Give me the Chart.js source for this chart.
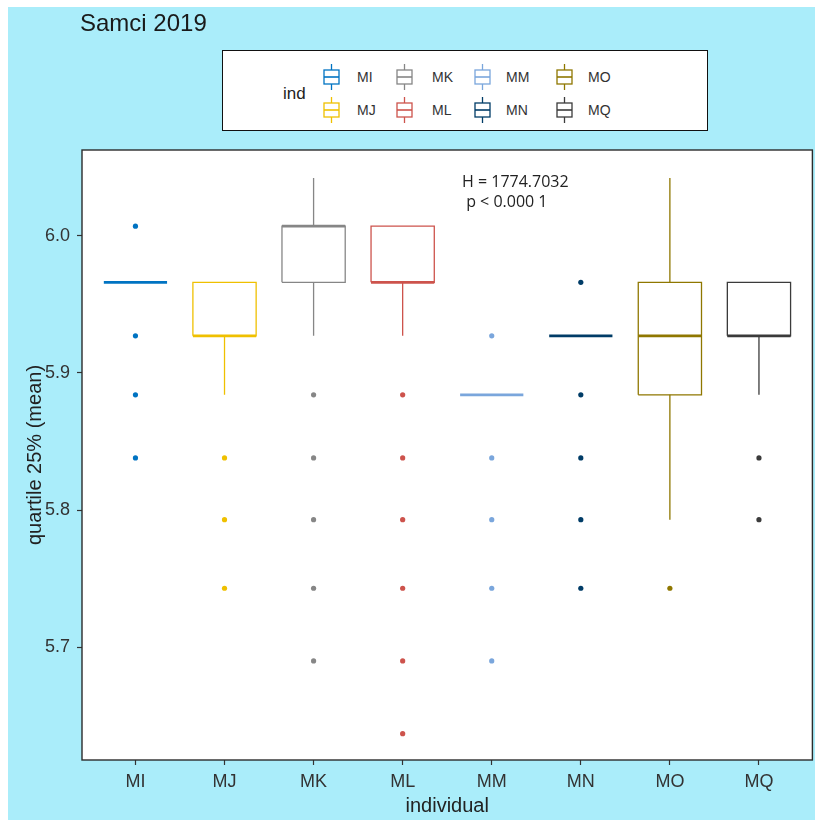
<!DOCTYPE html>
<html>
<head>
<meta charset="utf-8">
<script src="https://cdn.jsdelivr.net/npm/chart.js@4.4.1/dist/chart.umd.min.js"></script>
<style>
  html, body { margin: 0; background: #aaedfa; }
  #wrap { position: relative; width: 815px; height: 820px; overflow: hidden; background: #fff; }
  #bg { position: absolute; left: 8px; top: 7px; right: 0; bottom: 0; background: #aaedfa; }
  #chart { position: absolute; left: 0; top: 0; }
  #title { position: absolute; left: 80px; top: 11px; font: 24px "Liberation Sans", Arial, sans-serif; color: #1a1a1a; line-height: 24px; }
  #legend { position: absolute; left: 222px; top: 50px; width: 486px; height: 81px; box-sizing: border-box;
            border: 1.5px solid #111; background: #fff; font-family: "Liberation Sans", Arial, sans-serif; }
  #legend .lt { position: absolute; font-size: 17px; color: #222; line-height: 17px; }
  #legend .lab { position: absolute; font-size: 14px; color: #333; line-height: 14px; }
  #legend svg { position: absolute; }
  #stat { position: absolute; left: 462px; top: 171px; font: 16px "Open Sans", sans-serif; color: #222; line-height: 20px; white-space: pre; }
</style>
</head>
<body>
<div id="wrap">
  <div id="bg"></div>
  <canvas id="chart" width="815" height="820"></canvas>
  <div id="title">Samci 2019</div>
  <div id="legend"></div>
  <div id="stat"></div>
</div>
<script>
const categories = ['MI', 'MJ', 'MK', 'ML', 'MM', 'MN', 'MO', 'MQ'];
const colors = ['#0073C2', '#EFC000', '#868686', '#CD534C', '#7AA6DC', '#003C67', '#8F7700', '#3B3B3B'];
const lowerWhisker = [5.966, 5.884, 5.927, 5.927, 5.884, 5.927, 5.793, 5.884];
const q1 = [5.966, 5.927, 5.966, 5.966, 5.884, 5.927, 5.884, 5.927];
const median = [5.966, 5.927, 6.007, 5.966, 5.884, 5.927, 5.927, 5.927];
const q3 = [5.966, 5.966, 6.007, 6.007, 5.884, 5.927, 5.966, 5.966];
const upperWhisker = [5.966, 5.966, 6.042, 6.007, 5.884, 5.927, 6.042, 5.966];
const outliers = [
  [6.007, 5.927, 5.884, 5.838],
  [5.838, 5.793, 5.743],
  [5.884, 5.838, 5.793, 5.743, 5.690],
  [5.884, 5.838, 5.793, 5.743, 5.690, 5.637],
  [5.927, 5.838, 5.793, 5.743, 5.690],
  [5.966, 5.884, 5.838, 5.793, 5.743],
  [5.743],
  [5.838, 5.793]
];
const yTicks = [5.7, 5.8, 5.9, 6.0];
const statLines = ['H = 1774.7032', ' p < 0.000 1'];

const boxHalf = 0.355;

function seg(points, color, width) {
  return {
    data: points, showLine: true, borderColor: color, borderWidth: width,
    pointRadius: 0, pointHoverRadius: 0, tension: 0, fill: false, borderCapStyle: 'butt'
  };
}

const datasets = [];
categories.forEach((c, i) => {
  const col = colors[i];
  const L = i - boxHalf, R = i + boxHalf;
  if (upperWhisker[i] > q3[i]) datasets.push(seg([{x: i, y: q3[i]}, {x: i, y: upperWhisker[i]}], col, 1.3));
  if (lowerWhisker[i] < q1[i]) datasets.push(seg([{x: i, y: q1[i]}, {x: i, y: lowerWhisker[i]}], col, 1.3));
  if (q3[i] > q1[i]) {
    datasets.push(seg([{x: L, y: q1[i]}, {x: R, y: q1[i]}, {x: R, y: q3[i]}, {x: L, y: q3[i]}, {x: L, y: q1[i]}], col, 1.3));
  }
  datasets.push(seg([{x: L, y: median[i]}, {x: R, y: median[i]}], col, 2.6));
  datasets.push({
    data: outliers[i].map(v => ({x: i, y: v})), showLine: false,
    pointRadius: 2.6, pointHoverRadius: 2.6, backgroundColor: col, borderWidth: 0
  });
});

const panel = {
  id: 'panel',
  beforeDraw(chart) {
    const a = chart.chartArea, ctx = chart.ctx;
    ctx.save();
    ctx.fillStyle = '#ffffff';
    ctx.fillRect(a.left, a.top, a.right - a.left, a.bottom - a.top);
    ctx.restore();
  },
  afterDraw(chart) {
    const a = chart.chartArea, ctx = chart.ctx;
    ctx.save();
    ctx.strokeStyle = '#2b2b2b';
    ctx.lineWidth = 1.4;
    ctx.strokeRect(a.left, a.top, a.right - a.left, a.bottom - a.top);
    ctx.restore();
  }
};

const tickFont = {family: '"Liberation Sans", Arial, sans-serif', size: 18};
const titleFont = {family: '"Liberation Sans", Arial, sans-serif', size: 20};

new Chart(document.getElementById('chart'), {
  type: 'scatter',
  data: {datasets},
  plugins: [panel],
  options: {
    responsive: false,
    animation: false,
    devicePixelRatio: 1,
    layout: {padding: {top: 150, right: 2, left: 0, bottom: 0}},
    plugins: {legend: {display: false}, tooltip: {enabled: false}, title: {display: false}},
    scales: {
      x: {
        type: 'linear', min: -0.6, max: 7.6,
        afterBuildTicks: axis => { axis.ticks = categories.map((c, i) => ({value: i})); },
        afterFit: axis => { axis.height = 60; },
        ticks: {callback: v => categories[v], color: '#333', font: tickFont, padding: 6, maxRotation: 0, autoSkip: false},
        grid: {drawOnChartArea: false, drawTicks: true, tickLength: 5, tickColor: '#333', tickWidth: 1.2},
        border: {display: false},
        title: {display: true, text: 'individual', color: '#222', font: titleFont, padding: {top: 0, bottom: 2}}
      },
      y: {
        type: 'linear', min: 5.6178, max: 6.0625,
        afterBuildTicks: axis => { axis.ticks = yTicks.map(v => ({value: v})); },
        afterFit: axis => { axis.width = 82; },
        ticks: {callback: v => v.toFixed(1), color: '#333', font: tickFont, padding: 7},
        grid: {drawOnChartArea: false, drawTicks: true, tickLength: 5, tickColor: '#333', tickWidth: 1.2},
        border: {display: false},
        title: {display: true, text: 'quartile 25% (mean)', color: '#222', font: titleFont, padding: {top: 23, bottom: 0}}
      }
    }
  }
});

// legend (ggplot-style boxplot keys), column-major in two rows
const legend = document.getElementById('legend');
const lx = 222, ly = 50;
const glyphLeft = [322, 395, 473, 555];
const labelLeft = [356, 431, 505, 587];
const rowMid = [76, 109];
const t = document.createElement('div');
t.className = 'lt';
t.textContent = 'ind';
t.style.left = (282 - lx) + 'px';
t.style.top = (84 - ly) + 'px';
legend.appendChild(t);
categories.forEach((c, i) => {
  const col = Math.floor(i / 2), row = i % 2;
  const ns = 'http://www.w3.org/2000/svg';
  const svg = document.createElementNS(ns, 'svg');
  svg.setAttribute('width', 17);
  svg.setAttribute('height', 26);
  svg.style.left = (glyphLeft[col] - lx) + 'px';
  svg.style.top = (rowMid[row] - 13 - ly) + 'px';
  svg.innerHTML =
    `<line x1="8.5" y1="0" x2="8.5" y2="6" stroke="${colors[i]}" stroke-width="1.3"/>` +
    `<rect x="1" y="6" width="15" height="14" fill="#fff" stroke="${colors[i]}" stroke-width="1.3"/>` +
    `<line x1="1" y1="13" x2="16" y2="13" stroke="${colors[i]}" stroke-width="1.6"/>` +
    `<line x1="8.5" y1="20" x2="8.5" y2="26" stroke="${colors[i]}" stroke-width="1.3"/>`;
  legend.appendChild(svg);
  const lab = document.createElement('div');
  lab.className = 'lab';
  lab.textContent = c;
  lab.style.left = (labelLeft[col] - lx) + 'px';
  lab.style.top = (rowMid[row] - 7 - ly) + 'px';
  legend.appendChild(lab);
});

document.getElementById('stat').textContent = statLines.join('\n');
</script>
</body>
</html>
